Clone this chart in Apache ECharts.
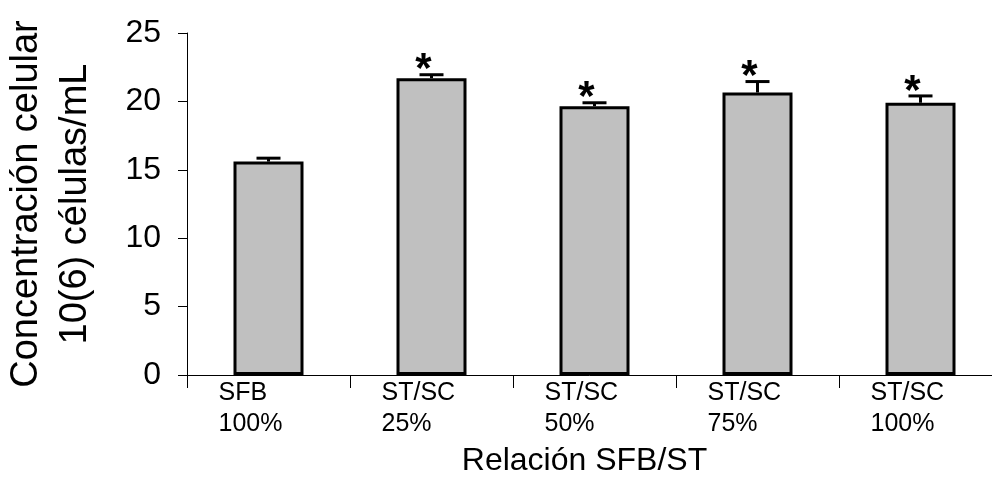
<!DOCTYPE html>
<html>
<head>
<meta charset="utf-8">
<script src="https://cdn.jsdelivr.net/npm/echarts@6/dist/echarts.min.js"></script>
<style>
html, body { margin: 0; padding: 0; background: #fff; }
#chart { width: 992px; height: 477px; }
</style>
</head>
<body>
<div id="chart"></div>
<script>
// categorias del eje x
var categories = ['SFB\n100%', 'ST/SC\n25%', 'ST/SC\n50%', 'ST/SC\n75%', 'ST/SC\n100%'];
// medias (10^6 celulas/mL)
var means = [15.6, 21.7, 19.65, 20.65, 19.9];
// error estandar
var errors = [0.25, 0.25, 0.25, 0.8, 0.5];
// diferencia significativa (*)
var significant = [false, true, true, true, true];
var yTicks = [0, 5, 10, 15, 20, 25];

var FONT = '"Liberation Sans", Arial, sans-serif';

var dom = document.getElementById('chart');
var myChart = echarts.init(dom);

var errData = [];
for (var i = 0; i < categories.length; i++) {
	errData.push([i, means[i], means[i] + errors[i], significant[i] ? 1 : 0]);
}

var option = {
	animation: false,
	backgroundColor: '#fff',
	grid: {
		left: 187,
		top: 33,
		right: -10,
		bottom: 102,
		outerBoundsMode: 'none'
	},
	xAxis: {
		type: 'category',
		data: categories,
		name: 'Relación SFB/ST',
		nameLocation: 'middle',
		nameGap: 70,
		nameTextStyle: { fontFamily: FONT, fontSize: 32, color: '#000', padding: [0, 20, 0, 0] },
		axisLine: { lineStyle: { color: '#000', width: 1 } },
		axisTick: { show: true, length: 13, lineStyle: { color: '#000' } },
		axisLabel: {
			margin: 3,
			formatter: function (v) {
				return v.split('\n').map(function (s) { return '{a|' + s + '}'; }).join('\n');
			},
			rich: {
				a: {
					fontFamily: FONT,
					fontSize: 25,
					color: '#000',
					lineHeight: 31,
					width: 100,
					align: 'left'
				}
			}
		}
	},
	yAxis: {
		type: 'value',
		min: yTicks[0],
		max: yTicks[yTicks.length - 1],
		interval: 5,
		name: 'Concentración celular\n10(6) células/mL',
		nameLocation: 'middle',
		nameGap: 87,
		nameTextStyle: { fontFamily: FONT, fontSize: 38, color: '#000', lineHeight: 49 },
		splitLine: { show: false },
		axisLine: { show: true, lineStyle: { color: '#000', width: 1 } },
		axisTick: { show: true, length: 9, lineStyle: { color: '#000' } },
		axisLabel: { fontFamily: FONT, fontSize: 32, color: '#000', margin: 26 }
	},
	series: [
		{
			type: 'bar',
			data: means,
			barWidth: 70,
			itemStyle: { color: '#c0c0c0', borderColor: '#000', borderWidth: 3 },
			z: 2
		},
		{
			type: 'custom',
			data: errData,
			z: 3,
			renderItem: function (params, api) {
				var base = api.coord([api.value(0), api.value(1)]);
				var top = api.coord([api.value(0), api.value(2)]);
				var children = [
					{ type: 'line', shape: { x1: base[0], y1: base[1], x2: top[0], y2: top[1] },
					  style: { stroke: '#000', lineWidth: 3 } },
					{ type: 'line', shape: { x1: top[0] - 12, y1: top[1], x2: top[0] + 12, y2: top[1] },
					  style: { stroke: '#000', lineWidth: 3 } }
				];
				if (api.value(3) === 1) {
					children.push({
						type: 'text',
						style: {
							x: top[0] - 8, y: top[1] + 17,
							text: '*',
							fontFamily: FONT,
							fontSize: 42,
							fontWeight: 'bold',
							fill: '#000',
							align: 'center',
							verticalAlign: 'bottom'
						}
					});
				}
				return { type: 'group', children: children };
			}
		}
	]
};

myChart.setOption(option, true);
</script>
</body>
</html>
